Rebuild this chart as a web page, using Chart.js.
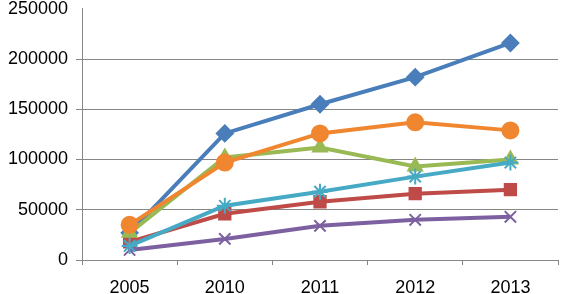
<!DOCTYPE html>
<html>
<head>
<meta charset="utf-8">
<script src="https://cdn.jsdelivr.net/npm/chart.js@4/dist/chart.umd.min.js"></script>
<style>
  html, body { margin: 0; padding: 0; background: #fff; }
  #wrap { width: 568px; height: 294px; position: relative; overflow: hidden; }
  /* the top label is cut in the original, so the canvas sits a bit higher */
  #inner { position: absolute; left: 0; top: -10px; width: 568px; height: 304px; }
</style>
</head>
<body>
<div id="wrap"><div id="inner"><canvas id="chart"></canvas></div></div>
<script>
const years = ['2005', '2010', '2011', '2012', '2013'];

const blueValues   = [27000, 126000, 155000, 182000, 216000];
const redValues    = [18000, 46000, 58000, 66000, 70000];
const greenValues  = [27000, 102000, 112000, 93000, 100000];
const purpleValues = [10000, 21000, 34000, 40000, 43000];
const tealValues   = [14000, 54000, 68000, 83000, 97000];
const orangeValues = [35000, 97000, 126000, 137000, 129000];

const yTicks = [0, 50000, 100000, 150000, 200000, 250000];

// excel series order, the last one ends up on top
const series = [
    { data: blueValues,   color: '#4A7EBB', marker: 'rectRot',  size: 8 },
    { data: redValues,    color: '#BE4B48', marker: 'rect',     size: 8 },
    { data: greenValues,  color: '#98B954', marker: 'triangle', size: 8 },
    { data: purpleValues, color: '#7D60A0', marker: 'crossRot', size: 8 },
    { data: tealValues,   color: '#46AAC5', marker: 'star',     size: 8 },
    { data: orangeValues, color: '#F0862F', marker: 'circle',   size: 8 },
];

const ctx = document.getElementById('chart').getContext('2d');

const chart = new Chart(ctx, {
    type: 'line',
    data: {
        labels: years,
        datasets: series.map((s, i) => ({
            data: s.data,
            order: series.length - i,
            borderColor: s.color,
            backgroundColor: s.color,
            borderWidth: 4,
            pointStyle: s.marker,
            pointRadius: s.size,
            pointBorderWidth: 2,
            pointBorderColor: s.color,
            pointBackgroundColor: s.color,
            tension: 0,
        })),
    },
    options: {
        responsive: true,
        maintainAspectRatio: false,
        animation: false,
        layout: { padding: { top: 0, right: 2, left: 0, bottom: 0 } },
        plugins: { legend: { display: false }, tooltip: { enabled: false } },
        scales: {
            x: {
                offset: true,
                grid: {
                    offset: true,
                    drawOnChartArea: false,
                    drawTicks: true,
                    tickLength: 5,
                    color: '#868686',
                },
                border: { color: '#868686', width: 1 },
                ticks: {
                    color: '#000',
                    font: { family: 'Liberation Sans', size: 18 },
                    padding: 12,
                },
                afterFit: (scale) => { scale.height = 34; },
            },
            y: {
                min: 0,
                max: 250000,
                afterBuildTicks: (scale) => {
                    scale.ticks = yTicks.map((v) => ({ value: v }));
                },
                grid: {
                    color: (c) => (c.tick && c.tick.value === 250000 ? 'rgba(0,0,0,0)' : '#868686'),
                    lineWidth: 1,
                    tickLength: 6,
                },
                border: { color: '#868686', width: 1 },
                ticks: {
                    color: '#000',
                    font: { family: 'Liberation Sans', size: 18 },
                    padding: 8,
                    callback: (v) => String(v),
                },
                afterFit: (scale) => { scale.width = 82; },
            },
        },
    },
});
</script>
</body>
</html>
